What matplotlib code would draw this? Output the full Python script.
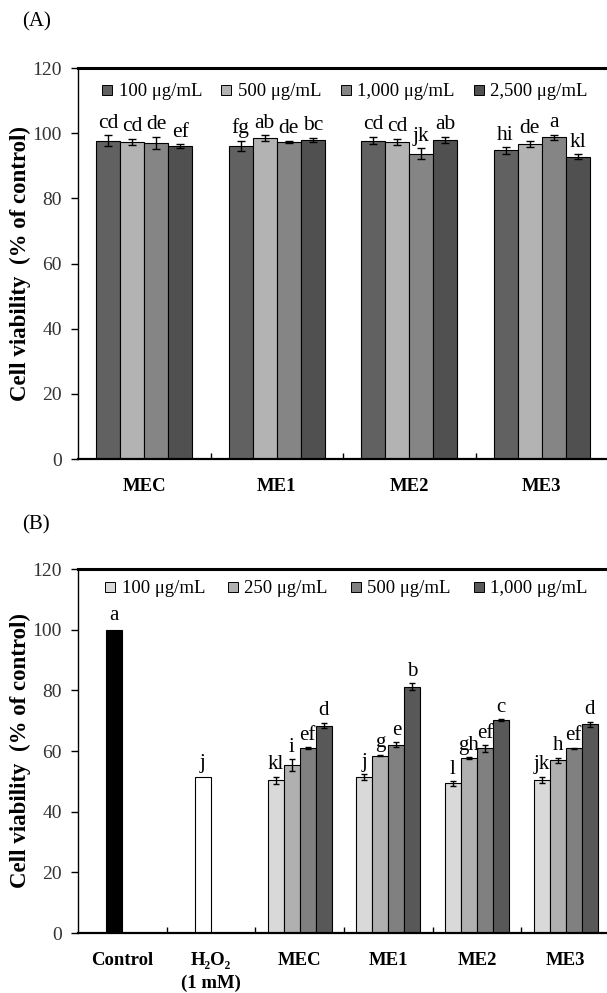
import matplotlib
matplotlib.use("Agg")
import matplotlib.pyplot as plt
import numpy as np
from matplotlib.lines import Line2D

plt.rcParams['font.family'] = ['Liberation Serif', 'DejaVu Serif']

# ---------------- data (A) ----------------
groups_a = ["MEC", "ME1", "ME2", "ME3"]
series_a = ["100 \u03bcg/mL", "500 \u03bcg/mL", "1,000 \u03bcg/mL", "2,500 \u03bcg/mL"]
colors_a = ["#616161", "#b3b3b3", "#858585", "#505050"]
vals_a = [
    [97.7, 96.0, 97.7, 94.7],   # 100
    [97.4, 98.4, 97.4, 96.7],   # 500
    [97.0, 97.4, 93.7, 98.7],   # 1000
    [96.0, 98.0, 98.0, 92.8],   # 2500
]
errs_a = [
    [1.7, 1.6, 1.1, 1.0],
    [0.9, 0.9, 0.9, 1.0],
    [1.8, 0.3, 1.7, 0.8],
    [0.6, 0.6, 0.9, 0.7],
]
letters_a = [
    ["cd", "fg", "cd", "hi"],
    ["cd", "ab", "cd", "de"],
    ["de", "de", "jk", "a"],
    ["ef", "bc", "ab", "kl"],
]

# ---------------- data (B) ----------------
groups_b = ["Control", "H\u2082O\u2082\n(1 mM)", "MEC", "ME1", "ME2", "ME3"]
series_b = ["100 \u03bcg/mL", "250 \u03bcg/mL", "500 \u03bcg/mL", "1,000 \u03bcg/mL"]
colors_b = ["#d9d9d9", "#b0b0b0", "#808080", "#585858"]
control_val, control_err, control_letter = 100.0, 0.0, "a"
h2o2_val, h2o2_err, h2o2_letter = 51.3, 0.0, "j"
vals_b = [
    [50.3, 51.4, 49.3, 50.5],   # 100
    [55.4, 58.5, 57.7, 57.0],   # 250
    [60.9, 62.1, 60.9, 60.9],   # 500
    [68.4, 81.2, 70.2, 68.8],   # 1000
]
errs_b = [
    [1.2, 1.0, 0.8, 1.0],
    [1.9, 0.3, 0.3, 0.8],
    [0.3, 0.8, 1.1, 0.2],
    [0.9, 1.2, 0.2, 0.8],
]
letters_b = [
    ["kl", "j", "l", "jk"],
    ["i", "g", "gh", "h"],
    ["ef", "e", "ef", "ef"],
    ["d", "b", "c", "d"],
]

W, H = 607, 993
fig = plt.figure(figsize=(W / 100, H / 100), dpi=100)


def style_axes(ax, ngroups, width_px):
    ax.set_ylim(0, 120)
    ax.set_yticks(np.arange(0, 121, 20))
    ax.set_xlim(-0.5, ngroups - 0.5)
    ax.set_xticks(np.arange(ngroups))
    ax.tick_params(axis='x', which='major', length=0, pad=14)
    ax.set_xticks(np.arange(0.5, ngroups - 0.5, 1), minor=True)
    ax.tick_params(axis='x', which='minor', direction='in', length=4, width=1)
    ax.tick_params(axis='y', direction='out', length=5, width=1, labelsize=14,
                   labelcolor='#333333', pad=6.5)
    ax.spines['top'].set_linewidth(2.2)
    ax.spines['left'].set_linewidth(1.0)
    ax.spines['bottom'].set_linewidth(1.6)
    ax.spines['right'].set_visible(False)
    ax.set_ylabel("Cell viability  (% of control)", fontsize=16.5, fontweight='bold')
    ax.yaxis.set_label_coords(-(78 - 31) / width_px, 0.5)


def legend_handles(colors):
    return [Line2D([], [], marker='s', linestyle='none', markersize=7, markerfacecolor=c,
                   markeredgecolor='black', markeredgewidth=0.7) for c in colors]


# ---------------- panel A ----------------
axA = fig.add_axes([78 / W, 1 - 459 / H, 530 / W, (459 - 68) / H])
wa = 24 / 132
xa = np.arange(len(groups_a))
for i in range(4):
    xs = xa + (i - 1.5) * wa
    axA.bar(xs, vals_a[i], width=wa, color=colors_a[i], edgecolor='black', linewidth=0.8,
            yerr=errs_a[i], error_kw=dict(ecolor='black', elinewidth=1, capsize=3, capthick=1),
            zorder=2)
    for x, v, e, t in zip(xs, vals_a[i], errs_a[i], letters_a[i]):
        axA.text(x, v + e + 0.8, t, ha='center', va='bottom', fontsize=15.5)
style_axes(axA, len(groups_a), 530)
axA.set_xticklabels(groups_a, fontsize=13.5, fontweight='bold')
axA.legend(legend_handles(colors_a), series_a, ncol=4, loc='upper center',
           bbox_to_anchor=(0.503, 1.0), frameon=False, fontsize=13.5, handlelength=0.6,
           handletextpad=0.3, columnspacing=1.0, borderaxespad=0.5, borderpad=0.3)
fig.text(22 / W, 1 - 22 / H, "(A)", fontsize=15, va='center', ha='left')

# ---------------- panel B ----------------
axB = fig.add_axes([78 / W, 1 - 933 / H, 532 / W, (933 - 569) / H])
wb = 16 / 88.6
xb = np.arange(len(groups_b))
axB.bar(xb[0] - 0.5 * wb, control_val, width=wb, color='black', edgecolor='black',
        linewidth=0.8, zorder=2)
axB.text(xb[0] - 0.5 * wb, control_val + control_err + 1.5, control_letter,
         ha='center', va='bottom', fontsize=15)
axB.bar(xb[1] - 0.5 * wb, h2o2_val, width=wb, color='white', edgecolor='black',
        linewidth=0.8, zorder=2)
axB.text(xb[1] - 0.5 * wb, h2o2_val + h2o2_err + 1.5, h2o2_letter,
         ha='center', va='bottom', fontsize=15)
xg = xb[2:]
for i in range(4):
    xs = xg + (i - 1.5) * wb
    axB.bar(xs, vals_b[i], width=wb, color=colors_b[i], edgecolor='black', linewidth=0.8,
            yerr=errs_b[i], error_kw=dict(ecolor='black', elinewidth=1, capsize=2.5, capthick=1),
            zorder=2)
    for x, v, e, t in zip(xs, vals_b[i], errs_b[i], letters_b[i]):
        axB.text(x, v + e + 0.8, t, ha='center', va='bottom', fontsize=15)
style_axes(axB, len(groups_b), 532)
axB.set_xticklabels(groups_b, fontsize=13.5, fontweight='bold', linespacing=1.4)
axB.legend(legend_handles(colors_b), series_b, ncol=4, loc='upper center',
           bbox_to_anchor=(0.504, 1.0), frameon=False, fontsize=13.5, handlelength=0.6,
           handletextpad=0.3, columnspacing=1.2, borderaxespad=0.5, borderpad=0.1)
fig.text(22 / W, 1 - 525 / H, "(B)", fontsize=15, va='center', ha='left')

fig.savefig("out.png", dpi=100)
